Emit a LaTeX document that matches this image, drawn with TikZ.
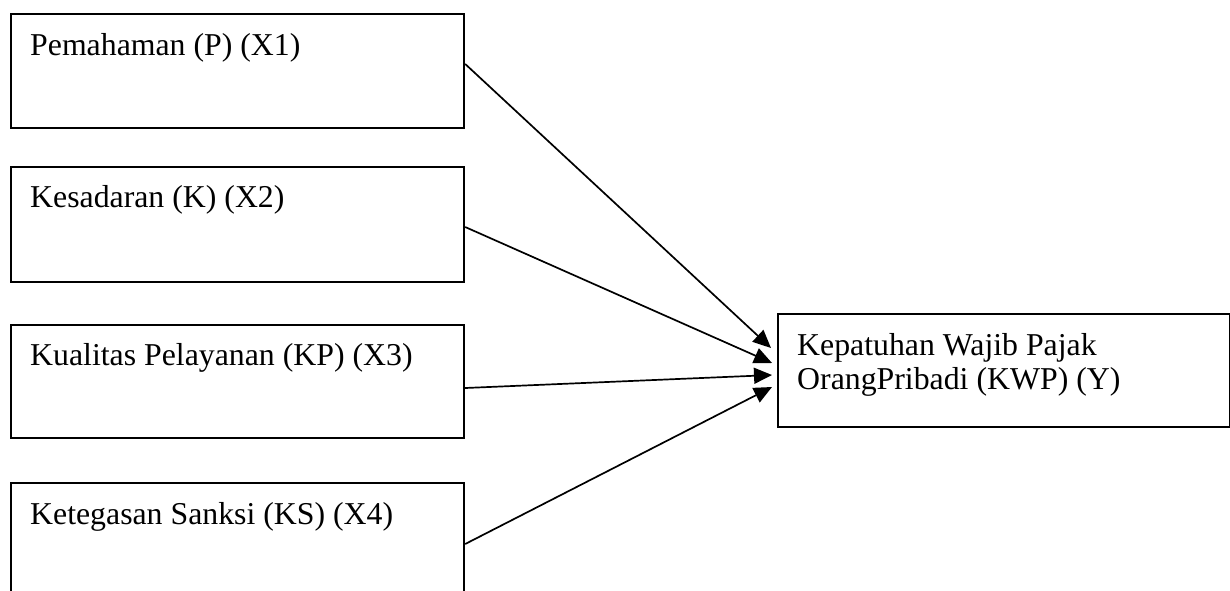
\documentclass[tikz,border=0pt]{standalone}
\usepackage{fontspec}
\setmainfont{Liberation Serif}
\usetikzlibrary{arrows.meta,calc}
\begin{document}
\begin{tikzpicture}[x=1pt,y=-1pt,
  box/.style={draw=black,line width=2.2pt,rectangle,inner sep=0pt,anchor=north west},
  lbl/.style={anchor=base west,inner sep=0pt,font=\fontsize{31.8}{35}\selectfont},
  link/.style={line width=1.7pt,-{Triangle[length=18pt,width=16pt]}}]
\clip (0,0) rectangle (1230,590);
\fill[white] (0,0) rectangle (1230,590);
\node[box,minimum width=453pt,minimum height=114pt] (b1) at (10,13) {};
\node[box,minimum width=453pt,minimum height=115pt] (b2) at (10,166) {};
\node[box,minimum width=453pt,minimum height=113pt] (b3) at (10,324) {};
\node[box,minimum width=453pt,minimum height=130pt] (b4) at (10,482) {};
\node[box,minimum width=452pt,minimum height=113pt] (y) at (777,313) {};
\node[lbl] (t1) at (30,55) {Pemahaman (P) (X1)};
\node[lbl] (t2) at (30,207) {Kesadaran (K) (X2)};
\node[lbl] (t3) at (30,365) {Kualitas Pelayanan (KP) (X3)};
\node[lbl] (t4) at (30,524) {Ketegasan Sanksi (KS) (X4)};
\node[lbl] (ty1) at (797,355) {Kepatuhan Wajib Pajak};
\node[lbl] (ty2) at (797,389) {OrangPribadi (KWP) (Y)};
\draw[link] ($(b1.north east)+(0,51)$) -- ($(y.north west)+(-6,35)$);
\draw[link] ($(b2.north east)+(0,61)$) -- ($(y.north west)+(-5,50)$);
\draw[link] ($(b3.north east)+(0,64)$) -- ($(y.north west)+(-5,62)$);
\draw[link] ($(b4.north east)+(0,62)$) -- ($(y.north west)+(-5,74)$);
\end{tikzpicture}
\end{document}
